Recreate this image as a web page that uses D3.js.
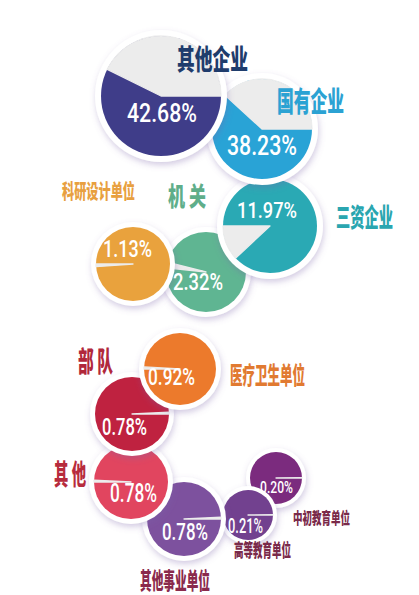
<!DOCTYPE html>
<html><head><meta charset="utf-8">
<script src="https://cdn.jsdelivr.net/npm/d3@7/dist/d3.min.js"></script>
<style>
html,body{margin:0;padding:0;background:#fff;}
svg{display:block;}
</style></head>
<body>
<script>
// ---- data ----
const categories = ["其他企业","国有企业","三资企业","科研设计单位","机 关","医疗卫生单位","部 队","其 他","其他事业单位","高等教育单位","中初教育单位"];
const values = [42.68, 38.23, 11.97, 1.13, 2.32, 0.92, 0.78, 0.78, 0.78, 0.21, 0.20];
const fillColors = ["#3f3d89","#29a3d6","#2aa9b4","#e9a23d","#5fb592","#ec7a2c","#bf2240","#e1455f","#7d519e","#72418f","#7b2b7e"];
const labelColors = ["#1f3c6c","#2ba2d3","#2aa6b0","#e8a040","#5fae8a","#e17a31","#b1283b","#b72b3d","#8a2a4c","#7a2a4a","#7a2a4a"];

// ---- layout (positions / sizes) ----
const circ = [
  {cx:161, cy:96,  r:60, ring:6, anchor:90,  dir:-1},
  {cx:262, cy:129, r:50, ring:6, anchor:90,  dir:-1},
  {cx:270, cy:226, r:47, ring:6, anchor:270, dir:-1},
  {cx:133, cy:264, r:37, ring:5, anchor:270, dir:-1},
  {cx:206, cy:272, r:40, ring:5, anchor:276, dir:1},
  {cx:180, cy:369, r:36, ring:5, anchor:270, dir:1},
  {cx:132, cy:414, r:37, ring:5, anchor:90,  dir:-1},
  {cx:131, cy:482, r:37, ring:5, anchor:270, dir:1},
  {cx:184, cy:519, r:37, ring:5, anchor:90,  dir:-1},
  {cx:248, cy:515, r:25, ring:4, anchor:90,  dir:-1},
  {cx:276, cy:478, r:26, ring:4, anchor:90,  dir:-1}
];
const pctPos = [
  {x:162, y:122, fs:26, len:70},
  {x:262, y:155, fs:27, len:70},
  {x:267, y:218, fs:22, len:60},
  {x:127.5, y:257, fs:23, len:49},
  {x:198, y:290, fs:24, len:50},
  {x:171.5, y:385, fs:23, len:47},
  {x:124.5, y:435, fs:24, len:45},
  {x:133.5, y:502, fs:25, len:47},
  {x:185, y:540, fs:24, len:46},
  {x:245.5, y:533, fs:20, len:35},
  {x:276.5, y:493, fs:16, len:33}
];
const catPos = [
  {x:212.5, y:58.5, fs:28, len:71},
  {x:310.5, y:99.5, fs:28, len:67},
  {x:364.5, y:216, fs:26, len:57},
  {x:98.5,  y:190.5, fs:20, len:73},
  {x:187,   y:194.5, fs:26, len:38},
  {x:267.5, y:374, fs:24, len:75},
  {x:95.5,  y:360.5, fs:28, len:35},
  {x:70,    y:472.5, fs:28, len:32},
  {x:175,   y:579, fs:23, len:70},
  {x:262.5, y:548.5, fs:18, len:57},
  {x:321.5, y:517.5, fs:16, len:57}
];

const W = 419, H = 595;
const svg = d3.select("body").append("svg").attr("width", W).attr("height", H);
const defs = svg.append("defs");
const f = defs.append("filter").attr("id","sh").attr("x","-30%").attr("y","-30%").attr("width","160%").attr("height","160%");
f.append("feDropShadow").attr("dx",1).attr("dy",3).attr("stdDeviation",3)
 .attr("flood-color","#7a5fa8").attr("flood-opacity",0.33);

const angle = d3.scaleLinear().domain([0,100]).range([0, 2*Math.PI]);
const deg = d => d*Math.PI/180;
const fmt = d3.format(".2f");

const data = categories.map((c,i)=>({cat:c, v:values[i], i}));
// earlier circles sit on top -> draw in reverse order
const order = data.slice().reverse();

const g = svg.selectAll("g.bub").data(order).join("g").attr("class","bub")
  .attr("transform", d=>`translate(${circ[d.i].cx},${circ[d.i].cy})`);

g.append("circle").attr("r", d=>circ[d.i].r + circ[d.i].ring).attr("fill","#fff").attr("filter","url(#sh)");
g.append("circle").attr("r", d=>circ[d.i].r).attr("fill", d=>fillColors[d.i]);
g.append("path")
  .attr("d", d=>{
    const c = circ[d.i], a = angle(d.v), an = deg(c.anchor);
    const s = c.dir < 0 ? an - a : an, e = c.dir < 0 ? an : an + a;
    return d3.arc().innerRadius(0).outerRadius(c.r).startAngle(s).endAngle(e)();
  })
  .attr("fill","#ececec").attr("stroke","#ececec").attr("stroke-width",1.3).attr("stroke-linejoin","round");

// squeeze a text horizontally to a target width (condensed look)
function squeeze(sel, pos) {
  sel.each(function(d){
    const p = pos[d.i];
    const w = this.getComputedTextLength() || p.len;
    d3.select(this).attr("transform", `translate(${p.x},${p.y}) scale(${p.len / w},1)`);
  });
}

// percentage labels
const pct = svg.selectAll("text.pct").data(order).join("text").attr("class","pct")
  .attr("x", 0).attr("y", 0)
  .attr("text-anchor","middle")
  .attr("font-family","Roboto, 'Liberation Sans', sans-serif")
  .attr("font-weight",500)
  .attr("font-size", d=>pctPos[d.i].fs)
  .attr("fill","#fff")
  .text(d=>fmt(d.v)+"%");
squeeze(pct, pctPos);

// category labels
const cat = svg.selectAll("text.cat").data(data).join("text").attr("class","cat")
  .attr("x", 0).attr("y", 0)
  .attr("text-anchor","middle").attr("dominant-baseline","central")
  .attr("font-family","'Noto Sans CJK SC', sans-serif")
  .attr("font-weight",900)
  .attr("font-size", d=>catPos[d.i].fs)
  .attr("fill", d=>labelColors[d.i])
  .text(d=>d.cat);
squeeze(cat, catPos);
</script>
</body></html>
